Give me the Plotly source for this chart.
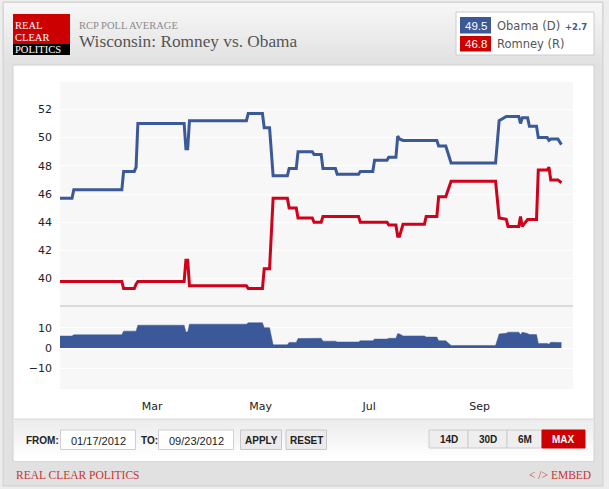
import plotly.graph_objects as go

W, H = 609, 489

# ---------------- data ----------------
dates = [
    "2012-01-09", "2012-01-16", "2012-01-17", "2012-02-13", "2012-02-14", "2012-02-20",
    "2012-02-21", "2012-02-22", "2012-03-19", "2012-03-20", "2012-03-21", "2012-03-22",
    "2012-04-23", "2012-04-24", "2012-05-02", "2012-05-03", "2012-05-06", "2012-05-08",
    "2012-05-16", "2012-05-17", "2012-05-21", "2012-05-22", "2012-05-30", "2012-05-31",
    "2012-06-04", "2012-06-05", "2012-06-12", "2012-06-13", "2012-06-25", "2012-06-26",
    "2012-07-03", "2012-07-04", "2012-07-11", "2012-07-12", "2012-07-16", "2012-07-17",
    "2012-07-18", "2012-07-20", "2012-08-01", "2012-08-02", "2012-08-08", "2012-08-09",
    "2012-08-13", "2012-08-16", "2012-09-10", "2012-09-12", "2012-09-16", "2012-09-17",
    "2012-09-23", "2012-09-24", "2012-09-25", "2012-09-28", "2012-09-29", "2012-10-03",
    "2012-10-04", "2012-10-09", "2012-10-10", "2012-10-11", "2012-10-15", "2012-10-17",
]
obama = [
    45.7, 45.7, 46.3, 46.3, 47.6, 47.6, 47.9, 51.0, 51.0, 49.2, 49.2, 51.2,
    51.2, 51.7, 51.7, 50.7, 50.7, 47.3, 47.3, 47.8, 47.8, 49.0, 49.0, 48.8,
    48.8, 47.8, 47.8, 47.4, 47.4, 47.6, 47.6, 48.4, 48.4, 48.6, 48.6, 50.1,
    49.9, 49.8, 49.8, 49.8, 49.8, 49.4, 49.4, 48.2, 48.2, 51.2, 51.5, 51.5,
    51.5, 51.0, 51.4, 51.4, 50.8, 50.8, 50.0, 50.0, 49.8, 49.9, 49.9, 49.5,
]
romney = [
    39.8, 39.8, 39.8, 39.8, 39.3, 39.3, 39.6, 39.8, 39.8, 41.3, 41.3, 39.5,
    39.5, 39.3, 39.3, 40.7, 40.7, 45.7, 45.7, 45.0, 45.0, 44.3, 44.3, 44.0,
    44.0, 44.4, 44.4, 44.4, 44.4, 44.0, 44.0, 44.0, 44.0, 43.8, 43.8, 43.0,
    43.0, 43.85, 43.85, 44.4, 44.4, 45.8, 45.8, 46.9, 46.9, 44.3, 44.2, 43.7,
    43.7, 44.4, 43.7, 44.2, 44.2, 44.2, 47.7, 47.7, 47.9, 47.0, 47.0, 46.8,
]
spread = [round(o - r, 2) for o, r in zip(obama, romney)]

main_ticks = [40, 42, 44, 46, 48, 50, 52]
spread_ticks = [-10, 0, 10]

title_kicker = "RCP POLL AVERAGE"
title_text = "Wisconsin: Romney vs. Obama"
obama_label, romney_label = "Obama (D)", "Romney (R)"
obama_last, romney_last, lead_text = "49.5", "46.8", "+2.7"
from_date, to_date = "01/17/2012", "09/23/2012"
range_buttons = ["14D", "30D", "6M", "MAX"]

BLUE = "#3b5998"
RED = "#d0021b"

# ---------------- helpers ----------------
def px(x):
    return x / W

def py(y):
    return 1 - y / H

shapes = []
annotations = []

def rect(x0, y0, x1, y1, fill, line=None, lw=1, layer="below"):
    shapes.append(dict(type="rect", xref="paper", yref="paper",
                       x0=px(x0), x1=px(x1), y0=py(y1), y1=py(y0),
                       fillcolor=fill, layer=layer,
                       line=dict(color=line or "rgba(0,0,0,0)", width=lw if line else 0)))

def hline(x0, x1, y, color, lw=1, layer="below"):
    shapes.append(dict(type="line", xref="paper", yref="paper",
                       x0=px(x0), x1=px(x1), y0=py(y), y1=py(y),
                       line=dict(color=color, width=lw), layer=layer))

def hexmix(c0, c1, t):
    a = [int(c0[i:i + 2], 16) for i in (1, 3, 5)]
    b = [int(c1[i:i + 2], 16) for i in (1, 3, 5)]
    return "#" + "".join("%02x" % round(a[k] + (b[k] - a[k]) * t) for k in range(3))

def gradient(x0, y0, x1, y1, c0, c1, n=12):
    h = (y1 - y0) / n
    for i in range(n):
        rect(x0, y0 + i * h, x1, y0 + (i + 1) * h + 0.6, hexmix(c0, c1, i / (n - 1)))

def text(t, x, y, size, color, family="DejaVu Sans", xanchor="left", yanchor="middle", **kw):
    annotations.append(dict(text=t, x=px(x), y=py(y), xref="paper", yref="paper",
                            xanchor=xanchor, yanchor=yanchor, showarrow=False,
                            font=dict(size=size, color=color, family=family), **kw))

SERIF = "Liberation Serif"
SANS = "Liberation Sans"

# ---------------- frame ----------------
rect(3, 2, 603, 486, "#e1e1e1", "#cfcfcf", 1)
gradient(4, 3, 602, 62, "#f6f6f6", "#e3e3e3", 14)

# logo
rect(13, 14, 70, 44, "#cc0000")
rect(13, 44, 70, 55, "#000000")
text("REAL", 14, 26, 10.5, "white", SERIF, borderpad=0)
text("CLEAR", 14, 37.5, 10.5, "white", SERIF, borderpad=0)
text("POLITICS", 13.5, 49.5, 10.5, "white", SERIF, borderpad=0)

# titles
text(title_kicker, 77, 25.5, 10.5, "#8a8a8a", SERIF)
text(title_text, 77, 41.5, 17.3, "#555555", SERIF)

# legend box
rect(456, 12, 594, 55, "#ffffff", "#cccccc", 1)
rect(460, 17, 491, 33.5, BLUE)
rect(460, 36, 491, 51.5, "#cc0000")
text(obama_last, 475.5, 25.5, 11.5, "white", SANS, xanchor="center")
text(romney_last, 475.5, 44, 11.5, "white", SANS, xanchor="center")
text(obama_label, 495, 25.5, 11.5, "#555555")
text("<b>" + lead_text + "</b>", 563, 27, 8.5, BLUE)
text(romney_label, 495, 44, 11.5, "#555555")

# white chart panel
rect(13, 65, 594, 461, "#ffffff", "#d0d0d0", 1)
# plot backgrounds
rect(60, 82, 573, 306, "#f7f7f7")
rect(60, 306, 573, 389, "#f7f7f7")
hline(60, 573, 306, "#d2d2d2", 1.5)

# control bar
gradient(14, 419, 593, 460.5, "#ececec", "#ffffff", 12)
hline(14, 593, 419, "#d6d6d6", 1)

text("<b>FROM:</b>", 23.5, 440.5, 10, "#222222", SANS)
rect(60.5, 430, 135.5, 449.5, "#ffffff", "#cfcfcf", 1)
text(from_date, 98, 440.5, 11, "#222222", SANS, xanchor="center")
text("<b>TO:</b>", 139, 440.5, 10, "#222222", SANS)
rect(158.5, 430, 233.5, 449.5, "#ffffff", "#cfcfcf", 1)
text(to_date, 196, 440.5, 11, "#222222", SANS, xanchor="center")
rect(240.5, 430, 281.5, 449.5, "#ebebeb", "#c8c8c8", 1)
text("<b>APPLY</b>", 261, 440.5, 10, "#222222", SANS, xanchor="center")
rect(286, 430, 326.5, 449.5, "#ebebeb", "#c8c8c8", 1)
text("<b>RESET</b>", 306.3, 440.5, 10, "#222222", SANS, xanchor="center")

btn_edges = [429, 468, 507, 542, 585]
for i, lab in enumerate(range_buttons):
    is_max = lab == "MAX"
    rect(btn_edges[i], 430, btn_edges[i + 1], 448,
         "#cc0000" if is_max else "#eeeeee",
         "#cc0000" if is_max else "#cccccc", 1)
    text("<b>" + lab + "</b>", (btn_edges[i] + btn_edges[i + 1]) / 2, 439.5, 10,
         "#ffffff" if is_max else "#222222", SANS, xanchor="center")

# footer
text("REAL CLEAR POLITICS", 14, 474.5, 11.5, "#cc3333", SERIF)
text("&lt; /&gt; EMBED", 593, 474.5, 11.5, "#cc3333", SERIF, xanchor="right")

# ---------------- traces ----------------
fig = go.Figure()
fig.add_trace(go.Scatter(x=dates, y=obama, mode="lines", name=obama_label,
                         line=dict(color=BLUE, width=3), xaxis="x", yaxis="y",
                         hoverinfo="skip"))
fig.add_trace(go.Scatter(x=dates, y=romney, mode="lines", name=romney_label,
                         line=dict(color=RED, width=3), xaxis="x", yaxis="y",
                         hoverinfo="skip"))
fig.add_trace(go.Scatter(x=dates, y=spread, mode="lines", fill="tozeroy",
                         fillcolor=BLUE, line=dict(color=BLUE, width=0.5),
                         xaxis="x2", yaxis="y2", hoverinfo="skip"))

xrange = ["2012-01-09 06:00", "2012-10-23 12:00"]
tickfont = dict(family="DejaVu Sans", size=11, color="#222222")

fig.update_layout(
    width=W, height=H,
    margin=dict(l=0, r=0, t=0, b=0),
    paper_bgcolor="#ededed",
    plot_bgcolor="rgba(0,0,0,0)",
    showlegend=False,
    shapes=shapes,
    annotations=annotations,
    xaxis=dict(domain=[px(60), px(573)], anchor="y", type="date", range=xrange,
               showticklabels=False, showgrid=False, zeroline=False, showline=False,
               fixedrange=True),
    xaxis2=dict(domain=[px(60), px(573)], anchor="y2", type="date", range=xrange,
                matches="x", tick0="2012-03-01", dtick="M2", tickformat="%b",
                showgrid=False, zeroline=False, showline=False, ticks="",
                ticklabelstandoff=9, tickfont=tickfont, fixedrange=True),
    yaxis=dict(domain=[py(306), py(82)], anchor="x", range=[38.06, 53.94],
               tickvals=main_ticks, gridcolor="#ffffff", gridwidth=1.2,
               zeroline=False, showline=False, ticks="", ticklabelstandoff=7,
               tickfont=tickfont, fixedrange=True),
    yaxis2=dict(domain=[py(389), py(306)], anchor="x2", range=[-20, 20.6],
                tickvals=spread_ticks, gridcolor="#ffffff", gridwidth=1.2,
                zeroline=False, showline=False, ticks="", ticklabelstandoff=7,
                tickfont=tickfont, fixedrange=True),
)

fig.write_html("out.html")
